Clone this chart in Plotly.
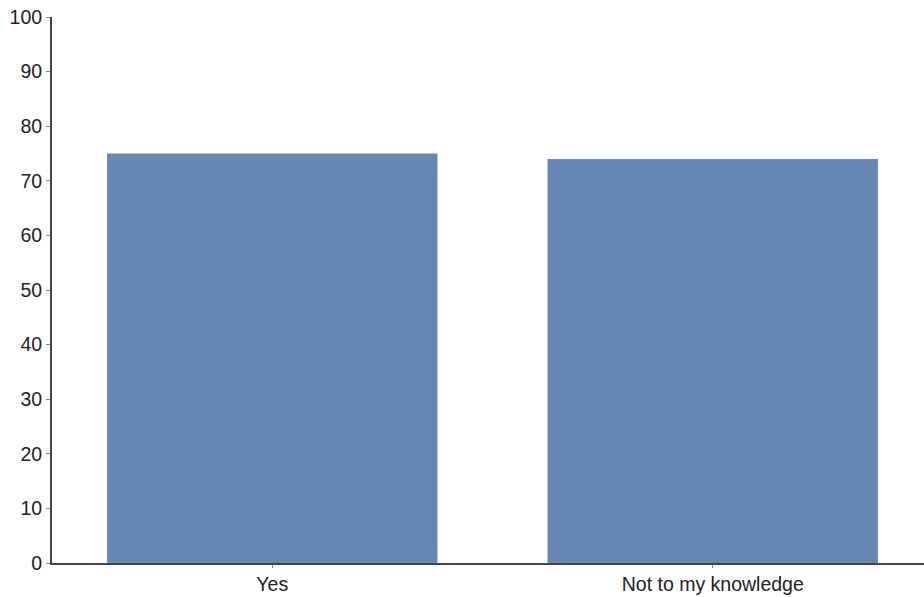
import plotly.graph_objects as go

categories = ["Yes", "Not to my knowledge"]
values = [75, 74]
y_ticks = [0, 10, 20, 30, 40, 50, 60, 70, 80, 90, 100]

fig = go.Figure(
    go.Bar(
        x=categories,
        y=values,
        width=0.75,
        marker=dict(color="#6688b5", line=dict(width=0)),
    )
)

fig.update_layout(
    width=924,
    height=597,
    margin=dict(l=52, r=0, t=17, b=34),
    paper_bgcolor="white",
    plot_bgcolor="white",
    font=dict(family="Liberation Sans, Arial, sans-serif", size=19.5, color="#222222"),
    showlegend=False,
)

fig.update_xaxes(
    range=[-0.5, -0.5 + 872 / 440.5],
    showline=True,
    linecolor="#444444",
    linewidth=2,
    showgrid=False,
    ticks="outside",
    ticklen=3,
    tickcolor="#888888",
    automargin=False,
    tickfont=dict(size=19.5),
)
fig.update_yaxes(
    range=[0, 100],
    tickvals=y_ticks,
    showline=True,
    linecolor="#444444",
    linewidth=2,
    showgrid=False,
    zeroline=False,
    ticks="outside",
    ticklen=4,
    tickcolor="#888888",
    automargin=False,
    ticklabeloverflow="allow",
    tickfont=dict(size=19.5),
)

fig.write_html(
    "out.html",
    config={"displayModeBar": False},
    post_script="document.body.style.margin='0';document.body.style.overflow='hidden';",
)
